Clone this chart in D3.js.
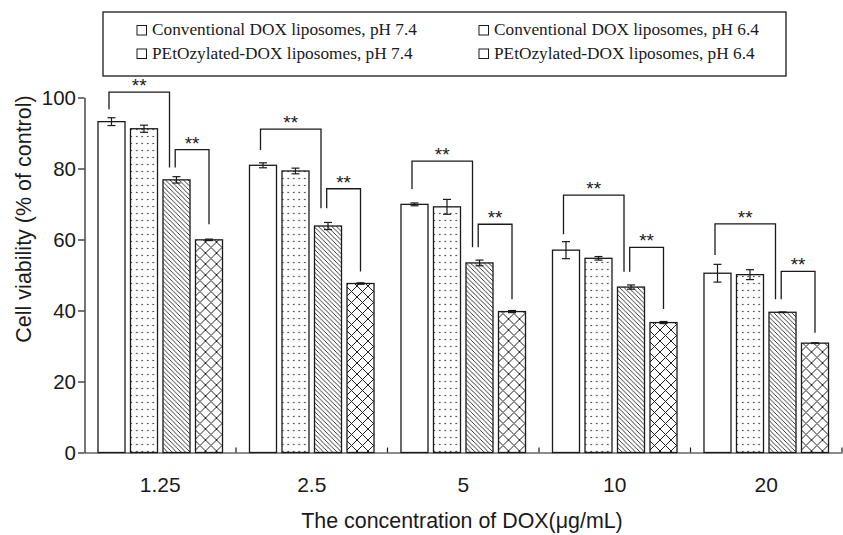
<!DOCTYPE html>
<html>
<head>
<meta charset="utf-8">
<script src="https://cdn.jsdelivr.net/npm/d3@7"></script>
<style>
  html, body { margin: 0; padding: 0; background: #fff; }
  svg { display: block; }
</style>
</head>
<body>
<div id="chart"></div>
<script>
// ---- data ----
const categories = ["1.25", "2.5", "5", "10", "20"];
const seriesNames = [
  "Conventional DOX liposomes, pH 7.4",
  "Conventional DOX liposomes, pH 6.4",
  "PEtOzylated-DOX liposomes, pH 7.4",
  "PEtOzylated-DOX liposomes, pH 6.4"
];
const conv74 = [93.2, 80.9, 69.9, 57.0, 50.5];
const conv64 = [91.2, 79.3, 69.2, 54.7, 50.1];
const peg74  = [76.8, 63.8, 53.4, 46.6, 39.5];
const peg64  = [59.9, 47.6, 39.7, 36.6, 30.8];
const conv74Err = [1.1, 0.7, 0.4, 2.4, 2.5];
const conv64Err = [1.0, 0.8, 2.1, 0.5, 1.4];
const peg74Err  = [0.9, 1.0, 0.8, 0.6, 0.1];
const peg64Err  = [0.2, 0.2, 0.3, 0.3, 0.1];
// significance brackets (values in y units)
const bracket1Top      = [101.5, 91.1, 82.1, 72.5, 64.4];
const bracket1LeftEnd  = [96.7, 85.2, 74.2, 61.5, 55.6];
const bracket1RightEnd = [80.3, 68.8, 57.8, 50.9, 43.2];
const bracket2Top      = [85.3, 74.3, 64.3, 57.8, 51.0];
const bracket2RightEnd = [64.3, 51.0, 43.2, 40.4, 33.7];
const sigLabel = "**";
const yTicks = [0, 20, 40, 60, 80, 100];
const xTitle = "The concentration of DOX(\u03bcg/mL)";
const yTitle = "Cell viability (% of control)";

// ---- layout ----
const W = 843, H = 535;
const sans = "Liberation Sans, Arial, Helvetica, sans-serif";
const serif = "Liberation Serif, Times New Roman, serif";
const ink = "#1a1a1a";

const svg = d3.select("#chart").append("svg")
  .attr("width", W).attr("height", H);

const defs = svg.append("defs");
// dots
const pDots = defs.append("pattern").attr("id", "dots")
  .attr("patternUnits", "userSpaceOnUse").attr("width", 5.5).attr("height", 7);
pDots.append("circle").attr("cx", 2.75).attr("cy", 3.5).attr("r", 0.8).attr("fill", "#222");
// diagonal lines "\\"
const d = 4.5;
const pDiag = defs.append("pattern").attr("id", "diag")
  .attr("patternUnits", "userSpaceOnUse").attr("width", d).attr("height", d);
pDiag.append("path")
  .attr("d", `M0,0 L${d},${d} M${-d/2},${d/2} L${d/2},${d*1.5} M${d/2},${-d/2} L${d*1.5},${d/2}`)
  .attr("stroke", "#222").attr("stroke-width", 0.9);
// cross hatch
const c = 11;
const pCross = defs.append("pattern").attr("id", "cross")
  .attr("patternUnits", "userSpaceOnUse").attr("width", c).attr("height", c);
pCross.append("path")
  .attr("d", `M0,0 L${c},${c} M${c},0 L0,${c}`)
  .attr("stroke", "#222").attr("stroke-width", 1);

const fills = ["#fff", "url(#dots)", "url(#diag)", "url(#cross)"];
const values = [conv74, conv64, peg74, peg64];
const errors = [conv74Err, conv64Err, peg74Err, peg64Err];

const x0 = d3.scaleBand().domain(categories).range([84.5, 842]).paddingInner(0).paddingOuter(0);
const x1 = d3.scaleBand().domain(d3.range(seriesNames.length))
  .range([0, x0.bandwidth()]).paddingInner(0.169).paddingOuter(0.415);
const y = d3.scaleLinear().domain([0, 100]).range([452.5, 97.5]);

const plot = svg.append("g");

// bars
categories.forEach((cat, i) => {
  const g = plot.append("g").attr("transform", `translate(${x0(cat)},0)`);
  seriesNames.forEach((s, k) => {
    const v = values[k][i];
    g.append("rect")
      .attr("x", x1(k)).attr("y", y(v))
      .attr("width", x1.bandwidth()).attr("height", y(0) - y(v))
      .attr("fill", "#fff");
    g.append("rect")
      .attr("x", x1(k)).attr("y", y(v))
      .attr("width", x1.bandwidth()).attr("height", y(0) - y(v))
      .attr("fill", fills[k]).attr("stroke", ink).attr("stroke-width", 1.3);
    // error bars
    const e = errors[k][i];
    const cx = x1(k) + x1.bandwidth() / 2;
    const eg = g.append("g").attr("stroke", ink).attr("stroke-width", 1.2);
    eg.append("line").attr("x1", cx).attr("x2", cx).attr("y1", y(v + e)).attr("y2", y(v - e));
    eg.append("line").attr("x1", cx - 4).attr("x2", cx + 4).attr("y1", y(v + e)).attr("y2", y(v + e));
    eg.append("line").attr("x1", cx - 4).attr("x2", cx + 4).attr("y1", y(v - e)).attr("y2", y(v - e));
  });

  // significance brackets
  const c0 = x1(0) + x1.bandwidth() / 2;
  const c2 = x1(2) + x1.bandwidth() / 2;
  const c3 = x1(3) + x1.bandwidth() / 2;
  const b1l = c0 - 2.5, b1r = c2 - 7, b2l = c2 - 1.3, b2r = c3;
  g.append("path")
    .attr("d", `M${b1l},${y(bracket1LeftEnd[i])} V${y(bracket1Top[i])} H${b1r} V${y(bracket1RightEnd[i])}`)
    .attr("fill", "none").attr("stroke", ink).attr("stroke-width", 1.3);
  g.append("path")
    .attr("d", `M${b2l},${y(bracket1RightEnd[i])} V${y(bracket2Top[i])} H${b2r} V${y(bracket2RightEnd[i])}`)
    .attr("fill", "none").attr("stroke", ink).attr("stroke-width", 1.3);
  g.append("text").attr("x", (b1l + b1r) / 2).attr("y", y(bracket1Top[i]) + 0)
    .attr("text-anchor", "middle").attr("font-family", sans).attr("font-size", 19)
    .attr("fill", ink).text(sigLabel);
  g.append("text").attr("x", (b2l + b2r) / 2).attr("y", y(bracket2Top[i]) + 0)
    .attr("text-anchor", "middle").attr("font-family", sans).attr("font-size", 19)
    .attr("fill", ink).text(sigLabel);
});

// y axis
const yAxis = svg.append("g").attr("transform", `translate(${x0.range()[0]},0)`)
  .call(d3.axisLeft(y).tickValues(yTicks).tickSize(6.5).tickPadding(2).tickSizeOuter(0));
yAxis.selectAll("text").attr("font-family", sans).attr("font-size", 20.5).attr("fill", ink);
yAxis.selectAll("line,path").attr("stroke", ink).attr("stroke-width", 1.2);

// x axis (labels)
const xAxis = svg.append("g").attr("transform", `translate(0,${y(0)})`)
  .call(d3.axisBottom(x0).tickSize(0).tickPadding(24.5).tickSizeOuter(0));
xAxis.selectAll("text").attr("font-family", sans).attr("font-size", 21).attr("fill", ink);
xAxis.select(".domain").attr("stroke", ink).attr("stroke-width", 1.2);
// group boundary ticks (inward)
svg.append("g").selectAll("line").data(categories).join("line")
  .attr("x1", dd => x0(dd) + x0.bandwidth()).attr("x2", dd => x0(dd) + x0.bandwidth())
  .attr("y1", y(0)).attr("y2", y(0) - 5)
  .attr("stroke", ink).attr("stroke-width", 1.2);

// axis titles
svg.append("text").attr("x", 462).attr("y", 528)
  .attr("text-anchor", "middle").attr("font-family", sans).attr("font-size", 21.4)
  .attr("fill", ink).text(xTitle);
svg.append("text").attr("transform", `translate(31,219) rotate(-90)`)
  .attr("text-anchor", "middle").attr("font-family", sans).attr("font-size", 21.5)
  .attr("fill", ink).text(yTitle);

// legend
const legend = svg.append("g");
legend.append("rect").attr("x", 103).attr("y", 12).attr("width", 683).attr("height", 64)
  .attr("fill", "#fff").attr("stroke", ink).attr("stroke-width", 1.3);
const legCols = [136, 478];
const legRows = [35, 58.5];
const order = [[0, 0], [1, 0], [0, 1], [1, 1]]; // [col,row] per series
seriesNames.forEach((s, k) => {
  const [ci, ri] = order[k];
  const lx = legCols[ci], ly = legRows[ri];
  legend.append("rect").attr("x", lx + 1).attr("y", ly - 9.5).attr("width", 9.5).attr("height", 9.5)
    .attr("fill", "#fff").attr("stroke", ink).attr("stroke-width", 1);
  legend.append("text").attr("x", lx + 16).attr("y", ly)
    .attr("font-family", serif).attr("font-size", 17.3).attr("fill", ink).text(s);
});
</script>
</body>
</html>
